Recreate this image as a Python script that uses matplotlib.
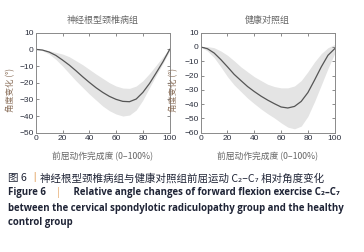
import matplotlib
matplotlib.use("Agg")
import matplotlib.pyplot as plt
import numpy as np

# ---------------- data ----------------
progress = [0, 5, 10, 15, 20, 25, 30, 35, 40, 45, 50, 55, 60, 65, 70, 75, 80, 85, 90, 95, 100]

csr_mean = [0, -0.4, -1.6, -3.6, -6.4, -9.4, -12.8, -16.4, -19.8, -23.0, -25.8, -28.2,
            -30.0, -31.2, -31.4, -29.8, -25.8, -20.4, -14.0, -7.4, 0.0]
csr_upper = [0, -0.1, -0.8, -1.8, -2.8, -4.4, -6.8, -9.2, -12.0, -14.8, -17.4, -20.0,
             -22.0, -23.2, -23.4, -22.0, -18.8, -14.4, -9.4, -4.4, 0.6]
csr_lower = [0, -0.8, -2.8, -6.0, -10.0, -14.4, -18.8, -22.8, -26.8, -30.4, -34.0, -36.8,
             -38.8, -40.0, -39.4, -36.4, -30.4, -22.8, -15.4, -8.4, -0.8]

hc_mean = [0, -1.2, -4.2, -8.8, -13.9, -19.2, -23.5, -27.7, -31.2, -34.4, -37.2, -39.7,
           -42.0, -42.7, -41.6, -38.1, -31.9, -23.1, -13.9, -5.8, -1.2]
hc_upper = [0, 0.3, -0.5, -2.8, -5.8, -9.7, -13.9, -17.4, -20.8, -23.5, -26.1, -27.7,
            -28.6, -28.6, -27.3, -23.5, -17.3, -10.4, -4.6, -0.5, 1.8]
hc_lower = [0, -2.8, -7.4, -13.9, -20.8, -26.6, -31.2, -35.8, -39.7, -43.4, -46.7, -49.7,
            -53.1, -56.1, -57.3, -55.4, -48.5, -38.1, -26.6, -15.0, -4.6]

titles = ["神经根型颈椎病组", "健康对照组"]
xticks = [0, 20, 40, 60, 80, 100]
yticks_left = [-50, -40, -30, -20, -10, 0, 10]
yticks_right = [-60, -50, -40, -30, -20, -10, 0, 10]
xlabel = "前屈动作完成度 (0–100%)"
ylabel = "角度变化 (°)"

CJK = ["Noto Sans CJK SC", "DejaVu Sans"]

fig = plt.figure(figsize=(3.64, 2.52), dpi=100)
fig.patch.set_facecolor("white")

W, H = 364, 252
def ax_rect(x0, x1, ytop, ybot):
    return [x0 / W, 1 - ybot / H, (x1 - x0) / W, (ybot - ytop) / H]

axL = fig.add_axes(ax_rect(35.7, 169.7, 32.7, 132.7))
axR = fig.add_axes(ax_rect(200.7, 334.7, 32.7, 132.7))

panels = [
    (axL, csr_mean, csr_upper, csr_lower, yticks_left, titles[0], -0.154),
    (axR, hc_mean, hc_upper, hc_lower, yticks_right, titles[1], -0.169),
]
for ax, m, up, lo, yt, title, lx in panels:
    ax.fill_between(progress, lo, up, color="#e4e4e4", linewidth=0)
    ax.plot(progress, m, color="#555555", linewidth=0.9)
    ax.set_xlim(0, 100)
    ax.set_ylim(yt[0], yt[-1])
    ax.set_xticks(xticks)
    ax.set_yticks(yt)
    ax.set_xticklabels([str(v) for v in xticks])
    ax.set_yticklabels([("−" + str(-v)) if v < 0 else str(v) for v in yt])
    ax.tick_params(direction="in", length=2.5, width=0.6, color="#777777",
                   top=True, right=True, labelsize=6.0, labelcolor="#2b2f3d", pad=1.5)
    for lab in ax.get_xticklabels() + ax.get_yticklabels():
        lab.set_family("Liberation Sans")
    for s in ax.spines.values():
        s.set_color("#8a8a8a")
        s.set_linewidth(0.7)
    ax.set_title(title, family=CJK, fontsize=6.5, color="#666666", pad=7)
    ax.set_xlabel(xlabel, family=CJK, fontsize=6.3, color="#666666", labelpad=7)
    ax.set_ylabel(ylabel, family=CJK, fontsize=6.0, color="#8a6f5a")
    ax.yaxis.set_label_coords(lx, 0.43)

# ---------------- caption ----------------
fig.canvas.draw()
renderer = fig.canvas.get_renderer()

def put_pieces(x_px, y_px, pieces, **kw):
    x = x_px
    for txt, col, extra in pieces:
        props = dict(kw)
        props.update(extra)
        t = fig.text(x / W, 1 - y_px / H, txt, color=col, va="center", ha="left", **props)
        bb = t.get_window_extent(renderer=renderer)
        x += bb.width

navy = "#1f2436"
orange = "#e3a25f"
put_pieces(8, 178, [
    ("图 6 ", navy, {}),
    ("丨", orange, {}),
    ("神经根型颈椎病组与健康对照组前屈运动 C₂–C₇ 相对角度变化", navy, {}),
], family=CJK, fontsize=7.55)

eng = dict(family=["Open Sans", "DejaVu Sans"], fontsize=6.9, fontweight="bold")
put_pieces(8, 193, [
    ("Figure 6    ", navy, {}),
    ("|", orange, {"fontweight": "normal"}),
    ("     Relative angle changes of forward flexion exercise C₂–C₇", navy, {}),
], **eng)
fig.text(8 / W, 1 - 208 / H, "between the cervical spondylotic radiculopathy group and the healthy",
         color=navy, va="center", ha="left", **eng)
fig.text(8 / W, 1 - 223 / H, "control group", color=navy, va="center", ha="left", **eng)

fig.savefig("out.png", dpi=100, facecolor="white")
